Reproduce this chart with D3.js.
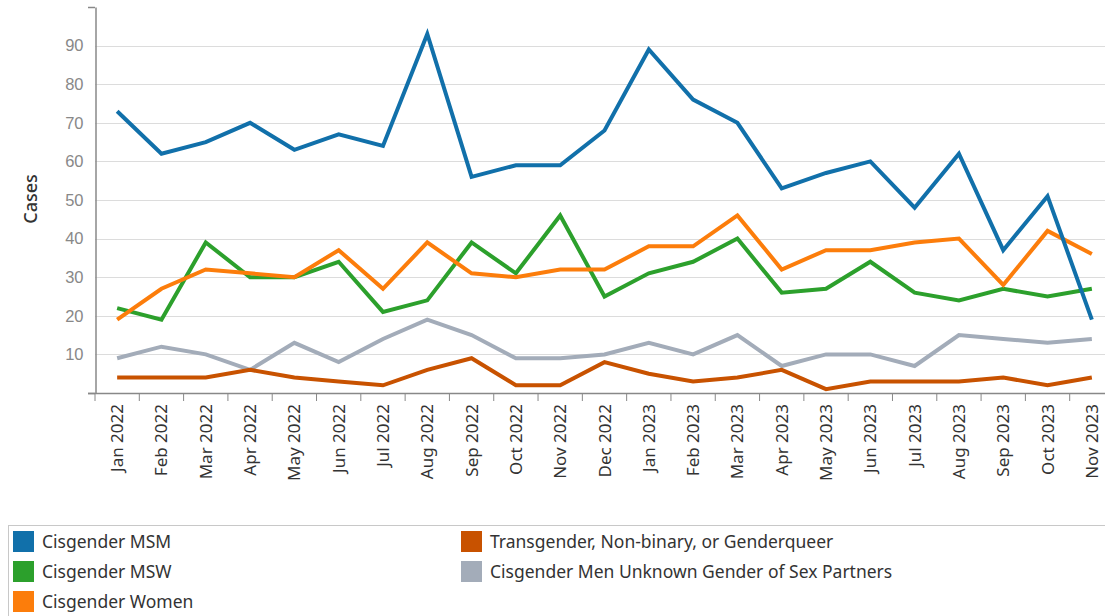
<!DOCTYPE html>
<html>
<head>
<meta charset="utf-8">
<script src="https://cdn.jsdelivr.net/npm/d3@7"></script>
<style>
  body { margin: 0; background: #fff; }
  svg { display: block; font-family: "Noto Sans", "Open Sans", sans-serif; }
</style>
</head>
<body>
<div id="chart"></div>
<script>
// months along the x axis
var months = ["Jan 2022","Feb 2022","Mar 2022","Apr 2022","May 2022","Jun 2022","Jul 2022","Aug 2022",
  "Sep 2022","Oct 2022","Nov 2022","Dec 2022","Jan 2023","Feb 2023","Mar 2023","Apr 2023","May 2023",
  "Jun 2023","Jul 2023","Aug 2023","Sep 2023","Oct 2023","Nov 2023"];

var seriesNames = ["Cisgender MSM", "Cisgender MSW", "Cisgender Women",
  "Transgender, Non-binary, or Genderqueer", "Cisgender Men Unknown Gender of Sex Partners"];

var msm = [73,62,65,70,63,67,64,93,56,59,59,68,89,76,70,53,57,60,48,62,37,51,19];
var msw = [22,19,39,30,30,34,21,24,39,31,46,25,31,34,40,26,27,34,26,24,27,25,27];
var women = [19,27,32,31,30,37,27,39,31,30,32,32,38,38,46,32,37,37,39,40,28,42,36];
var trans = [4,4,4,6,4,3,2,6,9,2,2,8,5,3,4,6,1,3,3,3,4,2,4];
var unknown = [9,12,10,6,13,8,14,19,15,9,9,10,13,10,15,7,10,10,7,15,14,13,14];

var yTicks = [10,20,30,40,50,60,70,80,90];

var colors = ["#1170aa", "#2ca02c", "#fc7d0b", "#c85200", "#a3acb9"];
var values = [msm, msw, women, trans, unknown];
// draw order: back to front
var drawOrder = [4, 3, 1, 2, 0];

var W = 1105, H = 616;
var svg = d3.select("#chart").append("svg").attr("width", W).attr("height", H);

var x = d3.scaleBand().domain(months).range([95, 1114]).padding(0);
var y = d3.scaleLinear().domain([0, 100]).range([393, 7]);

// gridlines
svg.append("g").selectAll("line")
  .data(yTicks).enter().append("line")
  .attr("x1", 95).attr("x2", W)
  .attr("y1", function(d){ return Math.round(y(d)) + 0.5; })
  .attr("y2", function(d){ return Math.round(y(d)) + 0.5; })
  .attr("stroke", "#dcdcdc").attr("stroke-width", 1);

// y axis
var yAxis = svg.append("g").attr("transform", "translate(95.5,0)")
  .call(d3.axisLeft(y).tickValues(yTicks).tickSize(0).tickPadding(12));
yAxis.select(".domain").attr("stroke", "#888").attr("stroke-width", 1.5);
yAxis.selectAll("text").attr("fill", "#888").style("font-size", "16.5px");

// end ticks on y axis (0 and 100)
svg.append("g").selectAll("line")
  .data([0, 100]).enter().append("line")
  .attr("x1", 88).attr("x2", 95)
  .attr("y1", function(d){ return Math.round(y(d)) + 0.5; })
  .attr("y2", function(d){ return Math.round(y(d)) + 0.5; })
  .attr("stroke", "#888").attr("stroke-width", 1.5);

// x axis line
svg.append("line")
  .attr("x1", 88).attr("x2", W)
  .attr("y1", Math.round(y(0)) + 0.5).attr("y2", Math.round(y(0)) + 0.5)
  .attr("stroke", "#888").attr("stroke-width", 1.5);

// x band boundary ticks
svg.append("g").selectAll("line")
  .data(months).enter().append("line")
  .attr("x1", function(d){ return x(d); }).attr("x2", function(d){ return x(d); })
  .attr("y1", y(0)).attr("y2", y(0) + 8)
  .attr("stroke", "#888").attr("stroke-width", 1);

// x labels
svg.append("g").selectAll("text")
  .data(months).enter().append("text")
  .attr("transform", function(d){
    return "translate(" + (x(d) + x.bandwidth() / 2 + 6) + "," + (y(0) + 11) + ") rotate(-90)";
  })
  .attr("text-anchor", "end")
  .attr("fill", "#333")
  .style("font-size", "17px")
  .text(function(d){ return d; });

// y title
svg.append("text")
  .attr("transform", "translate(37,199) rotate(-90)")
  .attr("text-anchor", "middle")
  .attr("fill", "#333")
  .style("font-size", "18px")
  .style("font-weight", "500")
  .text("Cases");

// lines
var line = d3.line()
  .x(function(d, i){ return x(months[i]) + x.bandwidth() / 2; })
  .y(function(d){ return y(d); });

drawOrder.forEach(function(k){
  svg.append("path")
    .datum(values[k])
    .attr("d", line)
    .attr("fill", "none")
    .attr("stroke", colors[k])
    .attr("stroke-width", 4)
    .attr("stroke-linejoin", "miter");
});

// legend
svg.append("rect")
  .attr("x", 8.5).attr("y", 525.5).attr("width", W).attr("height", 100)
  .attr("fill", "none").attr("stroke", "#c8c8c8").attr("stroke-width", 1);

var legendPos = [[13, 531], [13, 561], [13, 591], [461, 531], [461, 561]];
var leg = svg.append("g").selectAll("g")
  .data(seriesNames).enter().append("g")
  .attr("transform", function(d, i){ return "translate(" + legendPos[i][0] + "," + legendPos[i][1] + ")"; });
leg.append("rect")
  .attr("width", 21).attr("height", 21)
  .attr("fill", function(d, i){ return colors[i]; });
leg.append("text")
  .attr("x", 29).attr("y", 17)
  .attr("fill", "#333")
  .style("font-size", "17.5px")
  .text(function(d){ return d; });
</script>
</body>
</html>
